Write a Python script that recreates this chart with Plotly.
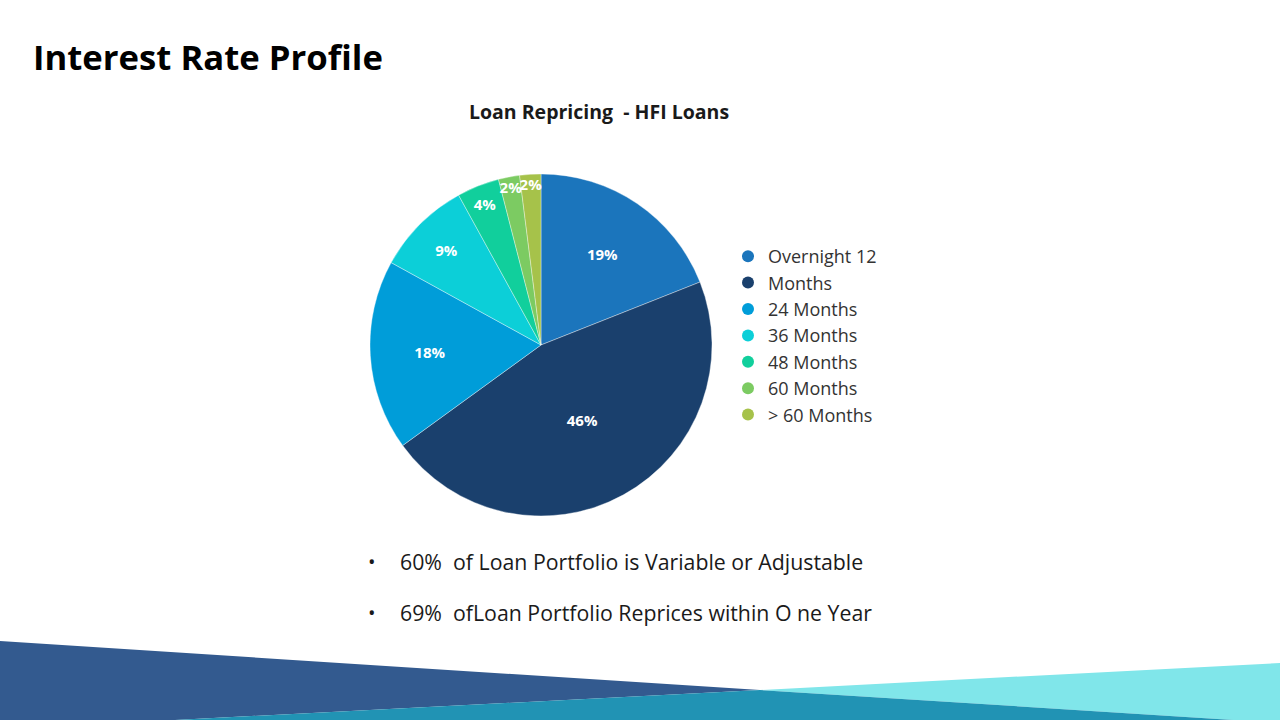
import plotly.graph_objects as go

# ---- data ----
categories = ["Overnight 12", "Months", "24 Months", "36 Months", "48 Months", "60 Months", "> 60 Months"]
shares = [19, 46, 18, 9, 4, 2, 2]
colors = ["#1B75BC", "#1A406D", "#009DD9", "#0CCFD8", "#11CF9C", "#7CCB62", "#A6C24A"]
bullets = [
    "60%  of Loan Portfolio is Variable or Adjustable",
    "69%  ofLoan Portfolio Reprices within O ne Year",
]

W, H = 1280, 720
FONT = "Open Sans"

def px(x):
    return x / W

def py(y):
    return 1 - y / H

fig = go.Figure()

cx, cy, r = 541, 345, 171
fig.add_trace(go.Pie(
    labels=categories,
    values=shares,
    sort=False,
    direction="clockwise",
    rotation=0,
    marker=dict(colors=colors, line=dict(color="rgba(255,255,255,0.6)", width=0.6)),
    texttemplate="%{value}%",
    textposition="inside",
    insidetextorientation="horizontal",
    textfont=dict(family=FONT, size=15, color="white", weight="bold"),
    hoverinfo="label+percent",
    showlegend=False,
    domain=dict(x=[px(cx - r), px(cx + r)], y=[py(cy + r), py(cy - r)]),
))

# legend entries with circle markers
for name, col in zip(categories, colors):
    fig.add_trace(go.Scatter(
        x=[None], y=[None], mode="markers", name=name,
        marker=dict(symbol="circle", size=12, color=col),
        showlegend=True, hoverinfo="skip",
    ))

# decorative bottom polygons
def poly(points, color):
    d = "M " + " L ".join(f"{px(x)},{py(y)}" for x, y in points) + " Z"
    return dict(type="path", path=d, xref="paper", yref="paper",
                fillcolor=color, line=dict(width=0), layer="below")

shapes = [
    poly([(0, 641), (760, 690), (175, 720), (0, 720)], "#335A8F"),
    poly([(1280, 663), (1280, 720), (1233, 720), (760, 690)], "#80E6EA"),
    poly([(175, 720), (760, 690), (1233, 720)], "#2193B4"),
]

annotations = [
    dict(text="<b>Interest Rate Profile</b>", x=px(31), y=py(57), xref="paper", yref="paper",
         xanchor="left", yanchor="middle", showarrow=False,
         font=dict(family=FONT, size=34.7, color="#000000")),
    dict(text="<b>Loan Repricing  - HFI Loans</b>", x=px(599), y=py(111), xref="paper", yref="paper",
         xanchor="center", yanchor="middle", showarrow=False,
         font=dict(family=FONT, size=19.5, color="#1a1a1a")),
]
for i, t in enumerate(bullets):
    yy = 561 + i * 51
    annotations.append(dict(text="•", x=px(372), y=py(yy), xref="paper", yref="paper",
                            xanchor="center", yanchor="middle", showarrow=False,
                            font=dict(family=FONT, size=20, color="#1a1a1a")))
    annotations.append(dict(text=t, x=px(398), y=py(yy), xref="paper", yref="paper",
                            xanchor="left", yanchor="middle", showarrow=False,
                            font=dict(family=FONT, size=21.3, color="#1a1a1a")))

fig.update_layout(
    width=W, height=H,
    margin=dict(l=0, r=0, t=0, b=0),
    paper_bgcolor="white", plot_bgcolor="rgba(0,0,0,0)",
    xaxis=dict(visible=False, domain=[0, 1]),
    yaxis=dict(visible=False, domain=[0, 1]),
    shapes=shapes,
    annotations=annotations,
    uniformtext=dict(minsize=15, mode="show"),
    legend=dict(x=px(728), y=py(238), xanchor="left", yanchor="top",
                font=dict(family=FONT, size=18, color="#333333"),
                bgcolor="rgba(0,0,0,0)", itemwidth=30, tracegroupgap=0),
)

fig.write_html("out.html", config={"displayModeBar": False},
               post_script="document.body.style.margin='0';document.body.style.overflow='hidden';")
